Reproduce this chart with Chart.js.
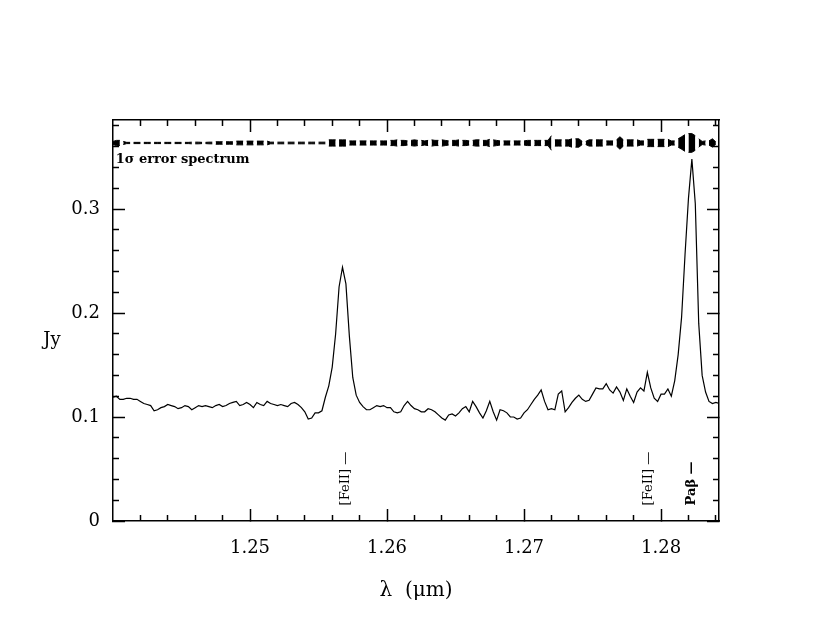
<!DOCTYPE html>
<html>
<head>
<meta charset="utf-8">
<script src="https://cdn.jsdelivr.net/npm/chart.js@4.4.1/dist/chart.umd.min.js"></script>
<style>
html, body { margin: 0; padding: 0; background: #fff; }
#quadro { width: 830px; height: 642px; }
</style>
</head>
<body>
<div id="quadro"><canvas id="espectro"></canvas></div>
<script>
// Amostragem do espectro (inicio e passo em micra)
const lambdaInicial = 1.24;
const passoLambda = 0.00025;

// Fluxo em Jy
const fluxo = [
    0.119, 0.120, 0.117, 0.117, 0.118, 0.118, 0.117, 0.117, 0.115, 0.113,
    0.112, 0.111, 0.106, 0.107, 0.109, 0.110, 0.112, 0.111, 0.110, 0.108,
    0.109, 0.111, 0.110, 0.107, 0.109, 0.111, 0.110, 0.111, 0.110, 0.109,
    0.111, 0.112, 0.110, 0.111, 0.113, 0.114, 0.115, 0.111, 0.112, 0.114,
    0.112, 0.109, 0.114, 0.112, 0.111, 0.115, 0.113, 0.112, 0.111, 0.112,
    0.111, 0.110, 0.113, 0.114, 0.112, 0.109, 0.105, 0.098, 0.099, 0.104,
    0.104, 0.106, 0.119, 0.130, 0.148, 0.180, 0.225, 0.244, 0.228, 0.178,
    0.138, 0.121, 0.114, 0.110, 0.107, 0.107, 0.109, 0.111, 0.110, 0.111,
    0.109, 0.109, 0.105, 0.104, 0.105, 0.111, 0.115, 0.111, 0.108, 0.107,
    0.105, 0.105, 0.108, 0.107, 0.105, 0.102, 0.099, 0.097, 0.102, 0.103,
    0.101, 0.104, 0.108, 0.110, 0.105, 0.115, 0.110, 0.104, 0.099, 0.106,
    0.115, 0.105, 0.097, 0.107, 0.106, 0.104, 0.100, 0.100, 0.098, 0.099,
    0.104, 0.107, 0.112, 0.117, 0.121, 0.126, 0.115, 0.107, 0.108, 0.107,
    0.122, 0.125, 0.105, 0.109, 0.114, 0.118, 0.121, 0.117, 0.115, 0.116,
    0.122, 0.128, 0.127, 0.127, 0.132, 0.126, 0.123, 0.129, 0.124, 0.116,
    0.127, 0.120, 0.114, 0.124, 0.128, 0.125, 0.143, 0.128, 0.118, 0.115,
    0.122, 0.122, 0.127, 0.120, 0.135, 0.160, 0.196, 0.256, 0.310, 0.348,
    0.305, 0.190, 0.140, 0.124, 0.115, 0.113, 0.114, 0.113
];

// Espectro de erro 1 sigma (meia altura da faixa, em Jy), desenhado deslocado no topo
const centroErro = 0.3635;
const erro = [
    0.0015, 0.0025, 0.0025, 0.0015, 0.0006, 0.0006, 0.0006, 0.0006, 0.0006, 0.0006,
    0.0006, 0.0006, 0.0006, 0.0006, 0.0006, 0.0006, 0.0006, 0.0006, 0.0006, 0.0006,
    0.0006, 0.0006, 0.0006, 0.0008, 0.0008, 0.0008, 0.0006, 0.0006, 0.0008, 0.0008,
    0.0012, 0.0012, 0.0012, 0.0012, 0.0012, 0.0012, 0.0018, 0.0018, 0.0018, 0.0018,
    0.0018, 0.0018, 0.0018, 0.0018, 0.0018, 0.0018, 0.0008, 0.0008, 0.0008, 0.0008,
    0.0008, 0.0008, 0.0008, 0.0008, 0.0008, 0.0008, 0.0008, 0.0008, 0.0008, 0.0008,
    0.0008, 0.0008, 0.0008, 0.0030, 0.0030, 0.0030, 0.0030, 0.0030, 0.0030, 0.0020,
    0.0020, 0.0020, 0.0020, 0.0020, 0.0020, 0.0020, 0.0020, 0.0020, 0.0020, 0.0020,
    0.0020, 0.0025, 0.0025, 0.0030, 0.0025, 0.0025, 0.0020, 0.0025, 0.0030, 0.0025,
    0.0025, 0.0020, 0.0025, 0.0030, 0.0025, 0.0025, 0.0030, 0.0025, 0.0020, 0.0025,
    0.0025, 0.0030, 0.0025, 0.0025, 0.0020, 0.0025, 0.0030, 0.0030, 0.0025, 0.0025,
    0.0035, 0.0030, 0.0025, 0.0020, 0.0020, 0.0020, 0.0020, 0.0020, 0.0020, 0.0020,
    0.0020, 0.0025, 0.0025, 0.0025, 0.0025, 0.0025, 0.0025, 0.0025, 0.0070, 0.0030,
    0.0030, 0.0030, 0.0030, 0.0030, 0.0040, 0.0040, 0.0040, 0.0015, 0.0015, 0.0030,
    0.0030, 0.0030, 0.0030, 0.0030, 0.0020, 0.0020, 0.0020, 0.0030, 0.0060, 0.0030,
    0.0030, 0.0030, 0.0030, 0.0030, 0.0020, 0.0020, 0.0035, 0.0035, 0.0035, 0.0035,
    0.0035, 0.0035, 0.0035, 0.0020, 0.0020, 0.0040, 0.0060, 0.0080, 0.0090, 0.0090,
    0.0070, 0.0040, 0.0015, 0.0020, 0.0020, 0.0040, 0.0010, 0.0040
];

// Marcas e rotulos dos eixos
const ticksX = [1.25, 1.26, 1.27, 1.28];
const rotulosX = ['1.25', '1.26', '1.27', '1.28'];
const ticksXMenores = [1.242, 1.244, 1.246, 1.248, 1.252, 1.254, 1.256, 1.258,
    1.262, 1.264, 1.266, 1.268, 1.272, 1.274, 1.276, 1.278, 1.282, 1.284];
const ticksY = [0, 0.1, 0.2, 0.3];
const rotulosY = ['0', '0.1', '0.2', '0.3'];
const ticksYMenores = [0.02, 0.04, 0.06, 0.08, 0.12, 0.14, 0.16, 0.18,
    0.22, 0.24, 0.26, 0.28, 0.32, 0.34, 0.36, 0.38];

// Identificacao das linhas de emissao
const linhasNomes = ['[FeII]', '[FeII]', 'Paβ'];
const linhasLambda = [1.25697, 1.27912, 1.28226];
const linhasNegrito = [false, false, true];

const fonte = '"DejaVu Serif", serif';
const xMin = 1.24, xMax = 1.28423, yMin = 0, yMax = 0.3856;

const pontosFluxo = fluxo.map((f, i) => ({ x: lambdaInicial + i * passoLambda, y: f }));
const pontosErroSup = erro.map((e, i) => ({ x: lambdaInicial + i * passoLambda, y: centroErro + e }));
const pontosErroInf = erro.map((e, i) => ({ x: lambdaInicial + i * passoLambda, y: centroErro - e }));

// lacuna a cada tres amostras, como o tracejado original
const lacuna = c => c.p0DataIndex % 3 === 2;
const corSegmento = c => (lacuna(c) ? 'rgba(0,0,0,0)' : '#000');

function criarEixo(posicao, valores, comprimento, tamanho, peso, borda) {
    const horizontal = posicao === 'top' || posicao === 'bottom';
    return {
        type: 'linear',
        position: posicao,
        min: horizontal ? xMin : yMin,
        max: horizontal ? xMax : yMax,
        weight: peso,
        afterBuildTicks: escala => { escala.ticks = valores.map(v => ({ value: v })); },
        afterFit: escala => {
            if (horizontal) escala.height = tamanho; else escala.width = tamanho;
        },
        grid: {
            display: true,
            drawOnChartArea: false,
            drawTicks: true,
            tickLength: -comprimento, // marcas para dentro
            tickWidth: 1.5,
            tickColor: '#000'
        },
        border: { display: borda, color: '#000', width: 1.5 },
        ticks: { display: false, autoSkip: false }
    };
}

const eixoX = criarEixo('bottom', ticksX, 12, 121, 1, true);
eixoX.ticks = {
    display: true, autoSkip: false, maxRotation: 0, padding: 29, color: '#000',
    font: { family: fonte, size: 18 },
    callback: (valor, indice) => rotulosX[indice]
};
eixoX.title = {
    display: true, text: 'λ  (μm)', color: '#000',
    font: { family: fonte, size: 20 },
    padding: { top: 0, bottom: 39 }
};

const eixoY = criarEixo('left', ticksY, 12, 113, 1, true);
eixoY.ticks = {
    display: true, autoSkip: false, padding: 25, color: '#000',
    font: { family: fonte, size: 18 },
    callback: (valor, indice) => rotulosY[indice]
};

// Textos anotados sobre o grafico
const anotacoes = {
    id: 'anotacoes',
    afterDatasetsDraw(chart) {
        const { ctx, scales: { x, y } } = chart;
        ctx.save();
        ctx.fillStyle = '#000';

        ctx.font = 'bold 13px ' + fonte;
        ctx.textAlign = 'left';
        ctx.textBaseline = 'alphabetic';
        ctx.fillText('1σ error spectrum', x.getPixelForValue(1.2402), y.getPixelForValue(0.344));

        linhasNomes.forEach((nome, i) => {
            ctx.save();
            ctx.translate(x.getPixelForValue(linhasLambda[i]), y.getPixelForValue(0.015));
            ctx.rotate(-Math.PI / 2);
            ctx.font = (linhasNegrito[i] ? 'bold ' : '') + '13px ' + fonte;
            ctx.textBaseline = 'middle';
            ctx.fillText(nome + ' —', 0, 0);
            ctx.restore();
        });

        ctx.font = '18px ' + fonte;
        ctx.textAlign = 'center';
        ctx.textBaseline = 'middle';
        ctx.fillText('Jy', chart.chartArea.left - 61, y.getPixelForValue(0.174));
        ctx.restore();
    }
};

const ctx = document.getElementById('espectro').getContext('2d');
const grafico = new Chart(ctx, {
    type: 'line',
    data: {
        datasets: [{
            label: 'Fluxo',
            data: pontosFluxo,
            borderColor: '#000',
            borderWidth: 1.2,
            pointRadius: 0,
            tension: 0,
            fill: false
        }, {
            label: 'Erro superior',
            data: pontosErroSup,
            borderColor: '#000',
            borderWidth: 1,
            pointRadius: 0,
            tension: 0,
            fill: false,
            segment: { borderColor: corSegmento }
        }, {
            label: 'Erro inferior',
            data: pontosErroInf,
            borderColor: '#000',
            backgroundColor: '#000',
            borderWidth: 1,
            pointRadius: 0,
            tension: 0,
            fill: '-1',
            segment: { borderColor: corSegmento, backgroundColor: corSegmento }
        }]
    },
    options: {
        responsive: true,
        maintainAspectRatio: false,
        animation: false,
        layout: { padding: { top: 120, right: 111, bottom: 0, left: 0 } },
        plugins: {
            legend: { display: false },
            tooltip: { enabled: false }
        },
        scales: {
            x: eixoX,
            xMenor: criarEixo('bottom', ticksXMenores, 6, 0, 0, false),
            xTopo: criarEixo('top', ticksX, 12, 0, 1, true),
            xTopoMenor: criarEixo('top', ticksXMenores, 6, 0, 0, false),
            y: eixoY,
            yMenor: criarEixo('left', ticksYMenores, 6, 0, 0, false),
            yDireita: criarEixo('right', ticksY, 12, 0, 1, true),
            yDireitaMenor: criarEixo('right', ticksYMenores, 6, 0, 0, false)
        }
    },
    plugins: [anotacoes]
});
</script>
</body>
</html>
